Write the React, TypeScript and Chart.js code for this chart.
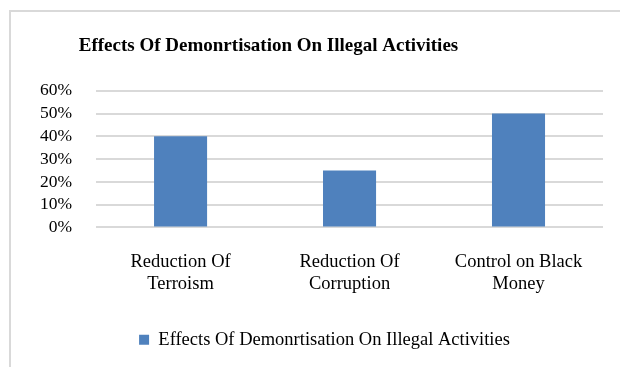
import React, { useEffect, useRef } from "react";
import { Chart, registerables } from "chart.js";

Chart.register(...registerables);

const chartTitle = "Effects Of Demonrtisation On Illegal Activities";
const seriesName = "Effects Of Demonrtisation On Illegal Activities";
const categories: string[][] = [
  ["Reduction Of", "Terroism"],
  ["Reduction Of", "Corruption"],
  ["Control on Black", "Money"],
];
const values: number[] = [0.4, 0.25, 0.5];
const yMin = 0;
const yMax = 0.6;
const yStep = 0.1;

const FONT = "'Liberation Serif', 'Times New Roman', Times, serif";

const shiftBlocks = {
  id: "shiftBlocks",
  afterLayout(chart: any) {
    const t = chart.titleBlock;
    if (t) {
      t.left -= 41;
      t.right -= 41;
    }
    const l = chart.legend;
    if (l) {
      l.left += 15;
      l.right += 15;
    }
  },
};

export default function App() {
  const ref = useRef<HTMLCanvasElement | null>(null);

  useEffect(() => {
    if (!ref.current) return;
    const chart = new Chart(ref.current, {
      type: "bar",
      data: {
        labels: categories,
        datasets: [
          {
            label: seriesName,
            data: values,
            backgroundColor: "#4f81bd",
            borderWidth: 0,
            categoryPercentage: 1,
            barPercentage: 0.314,
          },
        ],
      },
      plugins: [shiftBlocks],
      options: {
        responsive: true,
        maintainAspectRatio: false,
        animation: false,
        layout: { padding: { left: 16, right: 19, top: 0, bottom: 8 } },
        plugins: {
          title: {
            display: true,
            text: chartTitle,
            color: "#000",
            font: { family: FONT, size: 19, weight: "bold" },
            padding: { top: 35, bottom: 33 },
          },
          legend: {
            position: "bottom",
            labels: {
              color: "#000",
              font: { family: FONT, size: 18.5 },
              boxWidth: 10,
              boxHeight: 10,
              padding: 10,
            },
          },
          tooltip: { enabled: false },
        },
        scales: {
          x: {
            grid: { display: false, drawTicks: false },
            border: { display: false },
            ticks: {
              color: "#000",
              font: { family: FONT, size: 18.5, lineHeight: 1.19 },
              padding: 24,
              maxRotation: 0,
              autoSkip: false,
            },
            afterFit: (scale: any) => {
              scale.height += 1;
            },
          },
          y: {
            min: yMin,
            max: yMax,
            border: { display: false },
            grid: { color: "#d9d9d9", lineWidth: 2, drawTicks: false },
            ticks: {
              stepSize: yStep,
              autoSkip: false,
              color: "#000",
              font: { family: FONT, size: 17.5, lineHeight: 1 },
              padding: 24,
              callback: (v: any) => Math.round(Number(v) * 100) + "%",
            },
          },
        },
      },
    });
    return () => chart.destroy();
  }, []);

  return (
    <div
      style={{
        position: "fixed",
        left: 0,
        top: 0,
        width: 622,
        height: 367,
        background: "#fff",
        overflow: "hidden",
      }}
    >
      <div
        style={{
          position: "absolute",
          left: 9,
          top: 10,
          width: 611,
          height: 2,
          background: "#d9d9d9",
        }}
      />
      <div
        style={{
          position: "absolute",
          left: 9,
          top: 10,
          width: 2,
          height: 357,
          background: "#d9d9d9",
        }}
      />
      <div style={{ position: "absolute", left: 0, top: 0, width: 622, height: 367 }}>
        <canvas ref={ref} />
      </div>
    </div>
  );
}
